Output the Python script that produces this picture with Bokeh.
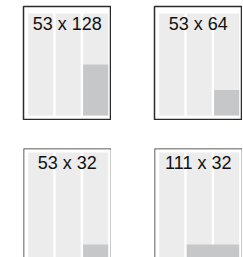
from bokeh.plotting import figure
from bokeh.layouts import column, row
from bokeh.models import Range1d, Span, ColumnDataSource
from bokeh.core.properties import value
from bokeh.embed import file_html
from bokeh.resources import INLINE

# ---- data ----
labels = ["53 x 128", "53 x 64", "53 x 32", "111 x 32"]
item_widths = [53, 53, 53, 111]
item_heights = [128, 64, 32, 32]
track_widths = [53, 53, 53]
track_gap = 5
container_height = 256

COL = "#ececec"
BAR = "#c6c7c9"
LINE = "#2a2a2a"

# track positions
lefts, rights = [], []
pos = 0
for w in track_widths:
    lefts.append(pos)
    rights.append(pos + w)
    pos += w + track_gap
total_w = rights[-1]


def panel(i, border_left, border_top, frame_h, y_lo, y_hi, full_outline):
    p = figure(width=border_left + 88, height=border_top + frame_h,
               x_axis_type=None, y_axis_type=None,
               x_range=Range1d(-10, total_w + 7), y_range=Range1d(y_lo, y_hi),
               toolbar_location=None, output_backend="svg",
               min_border_left=border_left, min_border_top=border_top,
               min_border_right=0, min_border_bottom=0)
    p.xgrid.visible = False
    p.ygrid.visible = False
    p.background_fill_color = "white"
    p.border_fill_color = "white"
    tracks = ColumnDataSource(dict(left=lefts, right=rights,
                                   bottom=[0] * len(lefts),
                                   top=[container_height] * len(lefts)))
    p.quad(left="left", right="right", bottom="bottom", top="top",
           source=tracks, fill_color=COL, line_color=None)
    p.quad(left=[total_w - item_widths[i]], right=[total_w], bottom=[0],
           top=[item_heights[i]], fill_color=BAR, line_color=None)
    p.text(x=[total_w / 2 - 2], y=[container_height], text=[labels[i]],
           text_font=value("Liberation Sans"), text_font_size="18px",
           text_align="center", text_baseline="top", text_color="#111111")
    if full_outline:
        p.outline_line_color = LINE
        p.outline_line_width = 1.5
    else:
        p.outline_line_color = None
        p.add_layout(Span(location=p.x_range.start, dimension="height",
                          line_color=LINE, line_width=1.5))
        p.add_layout(Span(location=p.x_range.end, dimension="height",
                          line_color=LINE, line_width=1.5))
        p.add_layout(Span(location=p.y_range.end, dimension="width",
                          line_color=LINE, line_width=1.5))
    return p


f1 = panel(0, 23, 6, 114, -12.5, 273.6, True)
f2 = panel(1, 43, 6, 114, -12.5, 273.6, True)
f3 = panel(2, 23, 28, 109, 0, 266, False)
f4 = panel(3, 43, 28, 109, 0, 266, False)

layout = column(row(f1, f2), row(f3, f4))
open("out.html", "w").write(file_html(layout, INLINE))
